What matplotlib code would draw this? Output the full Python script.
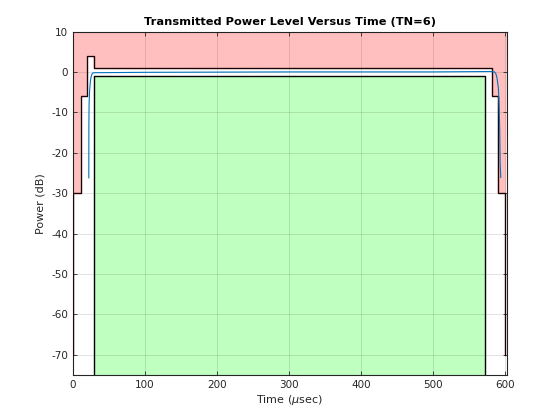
#!/usr/bin/env python3
"""
Transmitted power level versus time, with the upper / lower burst masks
"""

import matplotlib
matplotlib.use('Agg')
import matplotlib.pyplot as plt

# upper mask (dB) and its break points (usec)
upper_t = [0, 0, 11, 11, 19.4, 19.4, 29, 29, 581.5, 581.5, 589.5, 589.5, 600, 600]
upper_db = [-70, -30, -30, -6, -6, 4, 4, 1, 1, -6, -6, -30, -30, -70]

# lower mask (useful part of the burst)
lower_t = [29, 29, 571.5, 571.5]
lower_db = [-80, -1, -1, -80]

# measured burst power
sig_t = [22.2, 22.3, 22.6, 23.2, 24.0, 25.0, 26.2, 27.5, 29, 100, 300, 500, 580,
         585, 587, 588.6, 590.4, 591.4, 592.2, 592.8, 593.6]
sig_db = [-26.2, -13.3, -8.0, -5.0, -3.0, -1.5, -0.7, -0.3, -0.2, -0.1, 0.0, 0.0, 0.1,
          0.0, -0.5, -1.7, -4.2, -8.7, -14.5, -22.7, -26.1]

x_max = 602
y_lim = (-75, 10)


def main():
    plt.rcParams['axes.unicode_minus'] = False
    fig = plt.figure(figsize=(5.6, 4.2), dpi=100)
    ax = fig.add_axes([0.13, 0.107, 0.775, 0.818])

    # shaded regions outside / inside the masks
    ax.fill(upper_t + [x_max, 0], upper_db + [y_lim[1], y_lim[1]],
            color='#ffbfbf', lw=0, zorder=1)
    ax.fill(lower_t, lower_db, color='#bfffbf', lw=0, zorder=1)

    ax.plot(upper_t, upper_db, color='#200000', lw=1.0, zorder=3)
    ax.plot(lower_t, lower_db, color='k', lw=1.0, zorder=3)
    ax.plot(sig_t, sig_db, color='#0072bd', lw=0.8, zorder=4)

    ax.set_xlim(0, x_max)
    ax.set_ylim(*y_lim)
    ax.set_xticks(range(0, 601, 100))
    ax.set_yticks(range(-70, 11, 10))
    ax.tick_params(direction='in', top=True, right=True, length=3,
                   labelsize=7.5, colors='#262626', width=0.6)
    for s in ax.spines.values():
        s.set_linewidth(0.8)
        s.set_color('#262626')
    ax.grid(True, color='k', alpha=0.13, lw=0.6, zorder=5)
    ax.set_axisbelow(False)

    ax.set_title('Transmitted Power Level Versus Time (TN=6)', fontsize=8.2,
                 fontweight='bold', pad=5)
    ax.set_xlabel(r'Time ($\mu$sec)', fontsize=8, labelpad=2, color='#262626')
    ax.set_ylabel('Power (dB)', fontsize=8, labelpad=4, color='#262626')

    fig.savefig('out.png', dpi=100)
    plt.close(fig)


if __name__ == "__main__":
    main()
